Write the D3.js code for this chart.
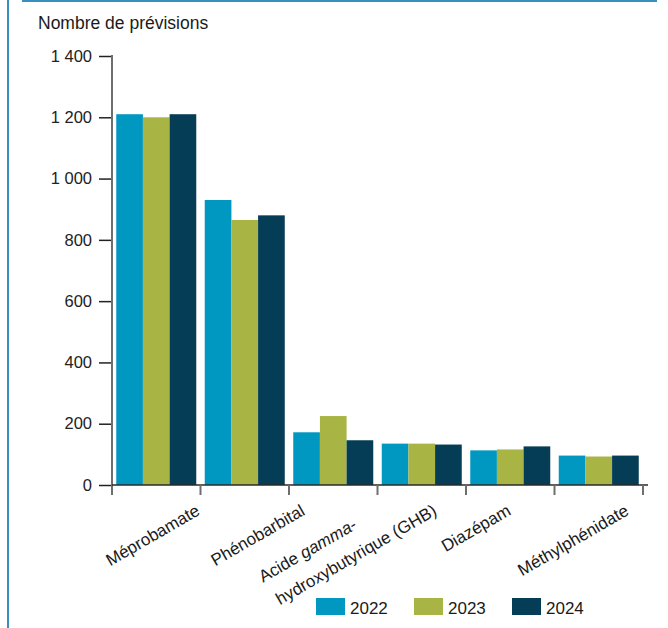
<!DOCTYPE html>
<html lang="fr">
<head>
<meta charset="utf-8">
<script src="https://cdn.jsdelivr.net/npm/d3@7"></script>
<style>
  html, body { margin: 0; padding: 0; background: #fff; }
  svg { display: block; font-family: "Liberation Sans", Arial, sans-serif; }
</style>
</head>
<body>
<svg id="chart" width="668" height="628"></svg>
<script>
// Nombre de prévisions par substance, 2022-2024
const years = ["2022", "2023", "2024"];
const values2022 = [1210, 930, 172, 135, 113, 96];
const values2023 = [1200, 865, 225, 135, 116, 93];
const values2024 = [1210, 880, 146, 132, 126, 96];
const categoryLabels = [
  ["Méprobamate"],
  ["Phénobarbital"],
  [["Acide ", "gamma", "-"], ["hydroxybutyrique (GHB)"]],
  ["Diazépam"],
  ["Méthylphénidate"]
];
const yTicks = [0, 200, 400, 600, 800, 1000, 1200, 1400];
const yTitle = "Nombre de prévisions";

const colors = ["#0097c1", "#a8b443", "#043d55"];
const series = [values2022, values2023, values2024];
const groups = d3.range(values2022.length);

const svg = d3.select("#chart");
const W = 668, H = 628;

// frame lines
svg.append("line").attr("x1", 8).attr("x2", 8).attr("y1", 0).attr("y2", H)
  .attr("stroke", "#3a8fc0").attr("stroke-width", 2);
svg.append("line").attr("x1", 22).attr("x2", 657).attr("y1", 1).attr("y2", 1)
  .attr("stroke", "#3a8fc0").attr("stroke-width", 2);

const plot = { left: 112, right: 643, top: 56, bottom: 485 };

const x = d3.scaleBand().domain(groups)
  .range([plot.left, plot.right])
  .paddingInner(0.096).paddingOuter(0.048);
const xYear = d3.scaleBand().domain(years).range([0, x.bandwidth()]).padding(0);
const y = d3.scaleLinear().domain([0, 1400]).range([plot.bottom, plot.top]);

const fmt = v => d3.format(",")(v).replace(/,/g, "\u00a0");

// bars
const g = svg.append("g");
groups.forEach(i => {
  years.forEach((yr, k) => {
    const v = series[k][i];
    g.append("rect")
      .attr("x", x(i) + xYear(yr))
      .attr("y", y(v))
      .attr("width", xYear.bandwidth())
      .attr("height", y(0) - y(v))
      .attr("fill", colors[k]);
  });
});

// y axis
const yAxis = svg.append("g").attr("transform", `translate(${plot.left},0)`)
  .call(d3.axisLeft(y).tickValues(yTicks).tickFormat(fmt).tickSize(13).tickPadding(7));
yAxis.select(".domain").remove();
yAxis.selectAll(".tick line").attr("stroke", "#222").attr("stroke-width", 1.5);
yAxis.selectAll(".tick text")
  .attr("font-size", 16.5).attr("fill", "#222")
  .attr("font-family", "'Liberation Sans', Arial, sans-serif");
svg.append("line").attr("x1", plot.left).attr("x2", plot.left)
  .attr("y1", plot.top - 1).attr("y2", plot.bottom + 10)
  .attr("stroke", "#6e6e6e").attr("stroke-width", 2);

// x axis baseline and boundary ticks
const bounds = groups.map(i => x(i) - x.step() * x.paddingInner() / 2)
  .concat([plot.right]);
bounds[0] = plot.left;
svg.append("line").attr("x1", plot.left).attr("x2", plot.right + 5)
  .attr("y1", plot.bottom).attr("y2", plot.bottom)
  .attr("stroke", "#2a2a2a").attr("stroke-width", 1.5);
svg.selectAll(".xtick").data(bounds.slice(1)).enter().append("line")
  .attr("x1", d => d).attr("x2", d => d)
  .attr("y1", plot.bottom).attr("y2", plot.bottom + 10)
  .attr("stroke", "#6e6e6e").attr("stroke-width", 2);

// y title
svg.append("text").attr("x", 38).attr("y", 29)
  .attr("font-size", 17.5).attr("fill", "#1a1a1a").text(yTitle);

// category labels, rotated, anchored at their baseline end
const labelEnds = [
  [[201, 514]],
  [[306, 514]],
  [[358, 528], [438, 514]],
  [[512, 514]],
  [[630, 514]]
];
categoryLabels.forEach((lines, i) => {
  lines.forEach((line, j) => {
    const [ex, ey] = labelEnds[i][j];
    const t = svg.append("text")
      .attr("transform", `translate(${ex},${ey}) rotate(-30)`)
      .attr("text-anchor", "end")
      .attr("font-size", 17).attr("fill", "#1a1a1a");
    const parts = Array.isArray(line) ? line : [line];
    parts.forEach((p, pi) => {
      t.append("tspan").text(p)
        .attr("font-style", (parts.length > 1 && pi === 1) ? "italic" : null);
    });
  });
});

// legend
const legend = svg.append("g");
const legendX = [316, 414, 512];
years.forEach((yr, k) => {
  legend.append("rect").attr("x", legendX[k]).attr("y", 598)
    .attr("width", 29).attr("height", 17).attr("fill", colors[k]);
  legend.append("text").attr("x", legendX[k] + 34).attr("y", 614)
    .attr("font-size", 17).attr("fill", "#1a1a1a").text(yr);
});
</script>
</body>
</html>
